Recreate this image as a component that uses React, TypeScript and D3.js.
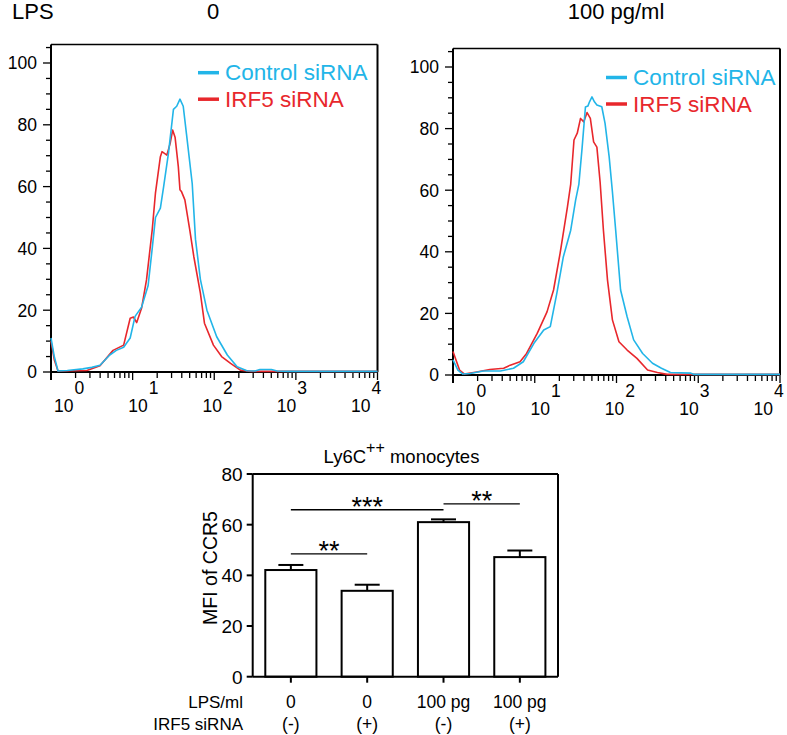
import React from 'react';
import * as d3 from 'd3';

const FONT = '"Liberation Sans", Arial, Helvetica, sans-serif';
const CYAN = '#22b5e8';
const RED = '#e8272c';

// Histogram data: [log10 fluorescence, % of max]
const leftControl: [number, number][] = [
  [0, 11], [0.04, 5], [0.086, 0.3], [0.2, 0.5], [0.39, 1], [0.5, 1.5], [0.6, 2.2], [0.72, 5.5], [0.8, 7],
  [0.89, 8], [0.97, 11], [1.03, 18], [1.11, 21], [1.19, 28], [1.24, 40], [1.28, 50], [1.34, 53], [1.38, 60],
  [1.44, 71], [1.5, 85], [1.54, 86], [1.58, 88.3], [1.62, 86], [1.66, 77], [1.73, 61], [1.77, 43], [1.83, 30],
  [1.91, 20], [2.03, 11.4], [2.16, 5.5], [2.28, 1.7], [2.4, 0.4], [2.5, 0.3], [2.56, 0.8], [2.7, 0.8],
  [2.77, 0.3], [2.9, 0.2], [4, 0.2],
];
const leftIRF5: [number, number][] = [
  [0, 10], [0.04, 4], [0.086, 0.3], [0.3, 0.4], [0.44, 0.5], [0.6, 2], [0.76, 7], [0.89, 8.7], [0.97, 17.4],
  [1.01, 17.8], [1.05, 16], [1.11, 20.7], [1.17, 29.8], [1.24, 46], [1.28, 58], [1.34, 69.7], [1.36, 71.3],
  [1.42, 70.2], [1.46, 74], [1.49, 78.3], [1.52, 76], [1.56, 66.4], [1.58, 59], [1.6, 58.3], [1.64, 55.7],
  [1.7, 46], [1.75, 37.3], [1.83, 25.5], [1.88, 15.8], [1.99, 8.7], [2.09, 5], [2.2, 2.8], [2.32, 0.6],
  [2.45, 0.2], [4, 0.2],
];
const rightControl: [number, number][] = [
  [0, 4.9], [0.06, 1.6], [0.12, 0.3], [0.21, 0.5], [0.37, 1.3], [0.58, 1.3], [0.74, 2.2], [0.86, 4.3],
  [0.99, 10.3], [1.11, 14.6], [1.19, 15.7], [1.27, 26.5], [1.35, 38.4], [1.44, 47], [1.5, 56.8], [1.54, 62],
  [1.58, 74], [1.62, 87], [1.65, 87.3], [1.67, 88.7], [1.7, 90.3], [1.73, 88.7], [1.76, 87.7], [1.82, 87.1],
  [1.86, 81.7], [1.91, 70.9], [1.95, 59.5], [1.99, 47], [2.05, 27.6], [2.13, 18.9], [2.21, 11.4], [2.32, 7],
  [2.44, 3.8], [2.55, 2.2], [2.66, 0.8], [2.91, 0.6], [2.95, 0.2], [4, 0.2],
];
const rightIRF5: [number, number][] = [
  [0, 7.6], [0.08, 1.6], [0.14, 0.3], [0.29, 1], [0.45, 1.8], [0.62, 2.2], [0.7, 3.2], [0.82, 4.3], [0.9, 7],
  [1.03, 13.5], [1.15, 20.5], [1.23, 27.6], [1.31, 39.5], [1.4, 54.6], [1.44, 62], [1.48, 76.3], [1.52, 78.5],
  [1.56, 83.3], [1.6, 82.2], [1.64, 85.2], [1.68, 83.3], [1.72, 75.7], [1.76, 74], [1.8, 62.5], [1.84, 47],
  [1.89, 30.8], [1.95, 17.9], [2.03, 10.8], [2.13, 8.1], [2.25, 5.4], [2.38, 1.6], [2.5, 0.8], [2.62, 0.2],
  [4, 0.2],
];
const histYTicks = [0, 20, 40, 60, 80, 100];
const histDecades = [0, 1, 2, 3, 4];
const legendLabels = ['Control siRNA', 'IRF5 siRNA'];
const panelTitles = ['0', '100 pg/ml'];

// Bar chart data
const barIds = ['a', 'b', 'c', 'd'];
const lpsLabels = ['0', '0', '100 pg', '100 pg'];
const sirnaLabels = ['(-)', '(+)', '(-)', '(+)'];
const barMeans = [42.1, 33.9, 61, 47.2];
const barErrors = [2, 2.4, 1.1, 2.6];
const barYTicks = [0, 20, 40, 60, 80];
const sigFrom = [0, 0, 2];
const sigTo = [1, 2, 3];
const sigLevel = [48.5, 65.9, 68.2];
const sigText = ['**', '***', '**'];

type HistProps = {
  left: number; right: number; zeroY: number; hundredY: number;
  control: [number, number][]; irf5: [number, number][];
  legendX: number; legendY: number; title: string; titleX: number;
};

function Histogram(p: HistProps) {
  const x = d3.scaleLog().domain([1, 1e4]).range([p.left, p.right]);
  const y = d3.scaleLinear().domain([0, 100]).range([p.zeroY, p.hundredY]);
  const labelX = d3.scaleLinear().domain([0, 4]).range([p.left + 23.5, p.right - 6]);
  const top = y(106);
  const line = d3.line<[number, number]>().x(d => x(Math.pow(10, d[0]))).y(d => y(d[1]));
  const xt = x.ticks();
  const yMinor = d3.range(0, 106, 5);
  return (
    <g fontFamily={FONT}>
      <text x={p.titleX} y={19} fontSize={22} textAnchor="middle">{p.title}</text>
      {/* frame */}
      <line x1={p.left} x2={p.right} y1={top} y2={top} stroke="#000" strokeWidth={1.5} />
      <line x1={p.right} x2={p.right} y1={top} y2={p.zeroY} stroke="#000" strokeWidth={2} />
      <line x1={p.left} x2={p.left} y1={top} y2={p.zeroY + 8} stroke="#000" strokeWidth={2} />
      <line x1={p.left} x2={p.right} y1={p.zeroY} y2={p.zeroY} stroke="#000" strokeWidth={2} />
      {yMinor.map(v => (
        <line key={'ym' + v} x1={p.left - (v % 20 === 0 ? 8 : 5)} x2={p.left} y1={y(v)} y2={y(v)} stroke="#000" strokeWidth={1.3} />
      ))}
      {histYTicks.map(v => (
        <text key={'yl' + v} x={p.left - 14} y={y(v)} dy="0.36em" fontSize={17.5} textAnchor="end">{v}</text>
      ))}
      {xt.map(v => {
        const major = Math.abs(Math.log10(v) - Math.round(Math.log10(v))) < 1e-9;
        return <line key={'xt' + v} x1={x(v)} x2={x(v)} y1={p.zeroY} y2={p.zeroY + (major ? 8 : 6)} stroke="#000" strokeWidth={1.3} />;
      })}
      {histDecades.map(k => (
        <g key={'xl' + k}>
          <text x={labelX(k) - 1} y={p.zeroY + 40} fontSize={17.5} textAnchor="end">10</text>
          <text x={labelX(k)} y={p.zeroY + 22} fontSize={17.5} textAnchor="start">{k}</text>
        </g>
      ))}
      <path d={line(p.irf5) || ''} fill="none" stroke={RED} strokeWidth={1.6} strokeLinejoin="round" />
      <path d={line(p.control) || ''} fill="none" stroke={CYAN} strokeWidth={1.6} strokeLinejoin="round" />
      {legendLabels.map((lab, i) => (
        <g key={lab}>
          <line x1={p.legendX} x2={p.legendX + 21} y1={p.legendY + i * 26.5} y2={p.legendY + i * 26.5}
            stroke={i === 0 ? CYAN : RED} strokeWidth={3.5} />
          <text x={p.legendX + 27} y={p.legendY + i * 26.5 + 7.5} fontSize={22.5} fill={i === 0 ? CYAN : RED}>{lab}</text>
        </g>
      ))}
    </g>
  );
}

function BarChart() {
  const left = 252.7, right = 558, bottom = 676.7, top = 474;
  const x = d3.scaleBand<string>().domain(barIds).range([left, right]).paddingInner(0.33).paddingOuter(0.165);
  const y = d3.scaleLinear().domain([0, 80]).range([bottom, top]);
  const cx = (i: number) => (x(barIds[i]) as number) + x.bandwidth() / 2;
  return (
    <g fontFamily={FONT}>
      <text x={401.5} y={463} fontSize={18.5} textAnchor="middle">
        Ly6C<tspan dy={-10} fontSize={16}>++</tspan><tspan dy={10}> monocytes</tspan>
      </text>
      <text transform={`translate(217,568) rotate(-90)`} fontSize={19.5} textAnchor="middle">MFI of CCR5</text>
      {barMeans.map((m, i) => (
        <g key={'b' + i}>
          <line x1={cx(i)} x2={cx(i)} y1={y(m)} y2={y(m + barErrors[i])} stroke="#000" strokeWidth={2} />
          <line x1={cx(i) - 12.5} x2={cx(i) + 12.5} y1={y(m + barErrors[i])} y2={y(m + barErrors[i])} stroke="#000" strokeWidth={2} />
          <rect x={x(barIds[i])} y={y(m)} width={x.bandwidth()} height={bottom - y(m)} fill="#fff" stroke="#000" strokeWidth={2} />
          <line x1={cx(i)} x2={cx(i)} y1={bottom} y2={bottom + 6} stroke="#000" strokeWidth={2} />
          <text x={cx(i)} y={708} fontSize={17.5} textAnchor="middle">{lpsLabels[i]}</text>
          <text x={cx(i)} y={729.5} fontSize={17.5} textAnchor="middle">{sirnaLabels[i]}</text>
        </g>
      ))}
      <line x1={left} x2={right} y1={top} y2={top} stroke="#000" strokeWidth={2} />
      <line x1={right} x2={right} y1={top} y2={bottom} stroke="#000" strokeWidth={2} />
      <line x1={left} x2={left} y1={top} y2={bottom} stroke="#000" strokeWidth={2} />
      <line x1={left} x2={right} y1={bottom} y2={bottom} stroke="#000" strokeWidth={2} />
      {barYTicks.map(v => (
        <g key={'byt' + v}>
          <line x1={left - 6} x2={left} y1={y(v)} y2={y(v)} stroke="#000" strokeWidth={2} />
          <text x={left - 10} y={y(v)} dy="0.36em" fontSize={19} textAnchor="end">{v}</text>
        </g>
      ))}
      {sigLevel.map((lv, i) => (
        <g key={'sig' + i}>
          <line x1={cx(sigFrom[i])} x2={cx(sigTo[i])} y1={y(lv)} y2={y(lv)} stroke="#000" strokeWidth={1.3} />
          <text x={(cx(sigFrom[i]) + cx(sigTo[i])) / 2} y={y(lv) + 6.5} fontSize={27} textAnchor="middle">{sigText[i]}</text>
        </g>
      ))}
      <text x={243} y={708} fontSize={17} textAnchor="end">LPS/ml</text>
      <text x={243} y={729.5} fontSize={17} textAnchor="end">IRF5 siRNA</text>
    </g>
  );
}

export default function App() {
  return (
    <svg width={787} height={735} style={{ position: 'absolute', left: 0, top: 0, background: '#fff' }}>
      <rect width={787} height={735} fill="#fff" />
      <text x={12} y={18.5} fontSize={22} fontFamily={FONT}>LPS</text>
      <Histogram left={51} right={377.5} zeroY={372} hundredY={63} control={leftControl} irf5={leftIRF5}
        legendX={198} legendY={72.7} title={panelTitles[0]} titleX={213} />
      <Histogram left={453} right={780} zeroY={375} hundredY={67} control={rightControl} irf5={rightIRF5}
        legendX={606} legendY={77.5} title={panelTitles[1]} titleX={616} />
      <BarChart />
    </svg>
  );
}
